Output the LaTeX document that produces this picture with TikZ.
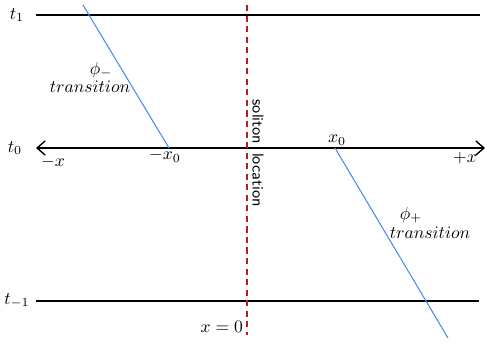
\documentclass[tikz,border=0pt]{standalone}
\usepackage{amsmath,amssymb}
\usepackage{xcolor}
\usepackage{tikz}
\usetikzlibrary{arrows.meta,calc}
\definecolor{transblue}{RGB}{70,140,235}
\definecolor{solred}{RGB}{180,30,30}
\tikzset{
  timeline/.style={
    line width=0.8pt,
  },
  transline/.style={
    draw = transblue,
    line width=0.6pt,
  },
  soliton/.style={
   draw = solred,
   line width=0.6pt,
   dash pattern=on 3.5pt off 2.5pt,
  },
  every picture/.style = {
    font=\normalsize
  }
}

\begin{document}
\begin{tikzpicture}[x=0.02cm,y=-0.02cm]
        \useasboundingbox (0,0) rectangle (487,345);
        % time slices
        \node (t1) at (17,15) {$t_1$};
        \node (t0) at (15,148) {$t_0$};
        \node (tm) at (17,301) {$t_{-1}$};
        \coordinate (t1e) at (480,15);
        \coordinate (t0e) at (485,148);
        \coordinate (tme) at (479,301);
        \coordinate (t1s) at (36,15);
        \coordinate (t0s) at (36,148);
        \coordinate (tms) at (36,301);
        \draw[timeline] (t1s) -- (t1e);
        \draw[timeline] (tms) -- (tme);
        \draw[timeline,{Straight Barb[length=1.6mm,width=2.8mm]}-{Straight Barb[length=1.6mm,width=2.8mm]}] (t0s) -- (t0e);
        \node (mx) at (53,162) {$-x$};
        \node (px) at (465,158) {$+x$};
        % soliton
        \coordinate (st) at (247,5);
        \coordinate (sb) at (247,335);
        \draw[soliton] (st) -- (sb);
        \node[rotate=-90,font=\sffamily\small] (sol) at (258,122) {soliton};
        \node[rotate=-90,font=\sffamily\small] (loc) at (258,180) {location};
        \node[anchor=east,inner sep=1pt] (xz) at (245,327) {$x = 0$};
        % transitions
        \coordinate (a1) at (83,5);
        \coordinate (a2) at (169,148);
        \coordinate (b1) at (335,148);
        \coordinate (b2) at (448,338);
        \draw[transline] (a1) -- (a2);
        \draw[transline] (b1) -- (b2);
        \node[inner sep=0pt] (mx0) at (165,156) {$-x_0$};
        \node[inner sep=0pt] (px0) at (337,140) {$x_0$};
        \node (phim) at (101,70) {$\phi_-$};
        \node (trm) at (90,87) {$transition$};
        \node (phip) at (411,215) {$\phi_+$};
        \node (trp) at (430,233) {$transition$};
    \end{tikzpicture}
\end{document}
